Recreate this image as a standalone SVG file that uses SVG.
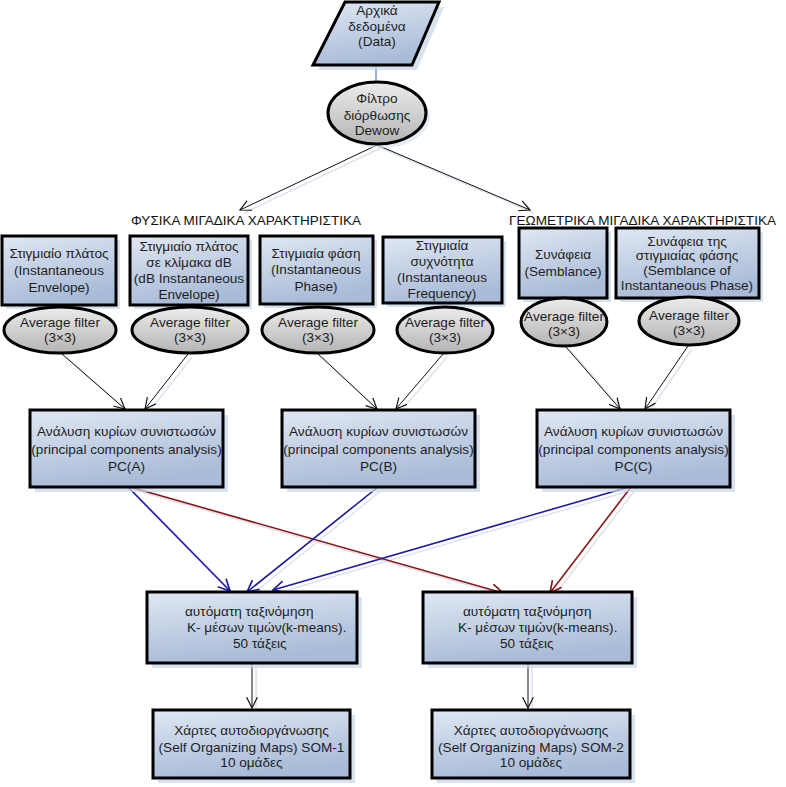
<svg xmlns="http://www.w3.org/2000/svg" width="786" height="787" viewBox="0 0 786 787">
<defs>
<linearGradient id="gBlue" x1="0" y1="0" x2="0.3" y2="1">
<stop offset="0" stop-color="#dfe7f3"/>
<stop offset="1" stop-color="#a9bbd7"/>
</linearGradient>
<linearGradient id="gGray" x1="0" y1="0" x2="0" y2="1">
<stop offset="0" stop-color="#ececec"/>
<stop offset="1" stop-color="#b4b4b4"/>
</linearGradient>
<marker id="aK" markerUnits="userSpaceOnUse" markerWidth="12" markerHeight="12" refX="9" refY="5" orient="auto" viewBox="0 0 10 10">
<path d="M0,0.5 L9,5 L0,9.5" fill="none" stroke="#111" stroke-width="1"/>
</marker>
<marker id="aB" markerUnits="userSpaceOnUse" markerWidth="13" markerHeight="13" refX="9" refY="5" orient="auto" viewBox="0 0 10 10">
<path d="M0,0.5 L9,5 L0,9.5" fill="none" stroke="#1c1ca6" stroke-width="1.3"/>
</marker>
<marker id="aR" markerUnits="userSpaceOnUse" markerWidth="13" markerHeight="13" refX="9" refY="5" orient="auto" viewBox="0 0 10 10">
<path d="M0,0.5 L9,5 L0,9.5" fill="none" stroke="#8a1515" stroke-width="1.3"/>
</marker>
</defs>
<style>
.box{fill:url(#gBlue);stroke:#000;stroke-width:3}
.ell{fill:url(#gGray);stroke:#000;stroke-width:3}
.sh{fill:#c9d5e8;opacity:0.7}
.t{font-family:"Liberation Sans",Arial,sans-serif;font-size:13.6px;fill:#1e1e1e;text-anchor:middle}
.ts{font-family:"Liberation Sans",Arial,sans-serif;font-size:13.6px;fill:#1e1e1e}
.h{font-family:"Liberation Sans",Arial,sans-serif;font-size:13px;fill:#111}
.ck{stroke:#111;stroke-width:1;fill:none;marker-end:url(#aK)}
.cb{stroke:#1c1ca6;stroke-width:1.6;fill:none;marker-end:url(#aB)}
.cr{stroke:#8a1515;stroke-width:1.6;fill:none;marker-end:url(#aR)}
.csh{stroke:#dde3ee;stroke-width:1.5;fill:none}
</style>
<rect width="786" height="787" fill="#fff"/>

<g id="connectors">
<g class="shadows">
<line class="csh" x1="381" y1="148" x2="244" y2="213"/>
<line class="csh" x1="381" y1="148" x2="534" y2="213"/>
<line class="csh" x1="66" y1="357" x2="129" y2="412"/>
<line class="csh" x1="192" y1="357" x2="149" y2="412"/>
<line class="csh" x1="322" y1="357" x2="381" y2="412"/>
<line class="csh" x1="447" y1="357" x2="400" y2="412"/>
<line class="csh" x1="570" y1="350" x2="624" y2="412"/>
<line class="csh" x1="692" y1="349" x2="649" y2="412"/>
<line class="csh" x1="132" y1="490" x2="234" y2="594"/>
<line class="csh" x1="134" y1="490" x2="507" y2="596"/>
<line class="csh" x1="382" y1="490" x2="251" y2="595"/>
<line class="csh" x1="633" y1="490" x2="277" y2="593"/>
<line class="csh" x1="635" y1="490" x2="554" y2="596"/>
<line class="csh" x1="256" y1="666" x2="256" y2="711"/>
<line class="csh" x1="532" y1="666" x2="532" y2="711"/>
</g>
<line x1="376" y1="66" x2="376" y2="82" stroke="#4f7fb8" stroke-width="1.2"/>
<line class="ck" x1="377" y1="145" x2="240" y2="210"/>
<line class="ck" x1="377" y1="145" x2="530" y2="210"/>
<line class="ck" x1="62" y1="354" x2="125" y2="409"/>
<line class="ck" x1="188" y1="354" x2="145" y2="409"/>
<line class="ck" x1="318" y1="354" x2="377" y2="409"/>
<line class="ck" x1="443" y1="354" x2="396" y2="409"/>
<line class="ck" x1="566" y1="347" x2="620" y2="409"/>
<line class="ck" x1="688" y1="346" x2="645" y2="409"/>
<line class="cb" x1="128" y1="487" x2="230" y2="591"/>
<line class="cr" x1="130" y1="487" x2="503" y2="593"/>
<line class="cb" x1="378" y1="487" x2="247" y2="592"/>
<line class="cb" x1="629" y1="487" x2="273" y2="590"/>
<line class="cr" x1="631" y1="487" x2="550" y2="593"/>
<line class="ck" x1="252" y1="663" x2="252" y2="708"/>
<line class="ck" x1="528" y1="663" x2="528" y2="708"/>
</g>

<g id="data">
<polygon class="sh" points="350,7 444,7 417,70 318,70"/>
<polygon class="box" points="345,2 439,2 412,65 313,65"/>
<text class="t" x="377" y="15">Αρχικά</text>
<text class="t" x="377" y="31">δεδομένα</text>
<text class="t" x="377" y="46">(Data)</text>
</g>

<g id="dewow">
<ellipse cx="381" cy="117" rx="49" ry="31" fill="#dbe3ef" opacity="0.7"/>
<ellipse class="ell" cx="377" cy="113" rx="49" ry="31"/>
<text class="t" x="377" y="103">Φίλτρο</text>
<text class="t" x="377" y="120">διόρθωσης</text>
<text class="t" x="377" y="135">Dewow</text>
</g>

<g id="header-physical">
<text class="h" x="131" y="225" textLength="230" lengthAdjust="spacingAndGlyphs">ΦΥΣΙΚΑ ΜΙΓΑΔΙΚΑ ΧΑΡΑΚΤΗΡΙΣΤΙΚΑ</text>
</g>
<g id="header-geometric">
<text class="h" x="509" y="225" textLength="267" lengthAdjust="spacingAndGlyphs">ΓΕΩΜΕΤΡΙΚΑ ΜΙΓΑΔΙΚΑ ΧΑΡΑΚΤΗΡΙΣΤΙΚΑ</text>
</g>

<g id="b1">
<rect class="sh" x="6" y="240" width="114" height="69"/>
<rect class="box" x="2" y="236" width="114" height="69"/>
<text class="t" x="59" y="258">Στιγμιαίο πλάτος</text>
<text class="t" x="59" y="275">(Instantaneous</text>
<text class="t" x="59" y="292">Envelope)</text>
</g>
<g id="b2">
<rect class="sh" x="134" y="240" width="118" height="69"/>
<rect class="box" x="130" y="236" width="118" height="69"/>
<text class="t" x="189" y="251">Στιγμιαίο πλάτος</text>
<text class="t" x="189" y="267">σε κλίμακα dB</text>
<text class="t" x="189" y="283">(dB Instantaneous</text>
<text class="t" x="189" y="299">Envelope)</text>
</g>
<g id="b3">
<rect class="sh" x="264" y="240" width="113" height="68"/>
<rect class="box" x="260" y="236" width="113" height="68"/>
<text class="t" x="316" y="258">Στιγμιαία φάση</text>
<text class="t" x="316" y="274">(Instantaneous</text>
<text class="t" x="316" y="291">Phase)</text>
</g>
<g id="b4">
<rect class="sh" x="387" y="241" width="119" height="66"/>
<rect class="box" x="383" y="237" width="119" height="66"/>
<text class="t" x="442" y="250">Στιγμιαία</text>
<text class="t" x="442" y="266">συχνότητα</text>
<text class="t" x="442" y="282">(Instantaneous</text>
<text class="t" x="442" y="298">Frequency)</text>
</g>
<g id="b5">
<rect class="sh" x="523" y="232" width="88" height="70"/>
<rect class="box" x="519" y="228" width="88" height="70"/>
<text class="t" x="563" y="259">Συνάφεια</text>
<text class="t" x="563" y="276">(Semblance)</text>
</g>
<g id="b6">
<rect class="sh" x="620" y="232" width="143" height="70"/>
<rect class="box" x="616" y="228" width="143" height="70"/>
<text class="t" x="687" y="246">Συνάφεια της</text>
<text class="t" x="687" y="260">στιγμιαίας φάσης</text>
<text class="t" x="687" y="275">(Semblance of</text>
<text class="t" x="687" y="290">Instantaneous Phase)</text>
</g>

<g id="f1">
<ellipse class="ell" cx="60" cy="330" rx="56" ry="23"/>
<text class="t" x="60" y="327">Average filter</text>
<text class="t" x="60" y="342">(3×3)</text>
</g>
<g id="f2">
<ellipse class="ell" cx="190" cy="330" rx="58" ry="23"/>
<text class="t" x="190" y="327">Average filter</text>
<text class="t" x="190" y="342">(3×3)</text>
</g>
<g id="f3">
<ellipse class="ell" cx="318" cy="330" rx="56" ry="23"/>
<text class="t" x="318" y="327">Average filter</text>
<text class="t" x="318" y="342">(3×3)</text>
</g>
<g id="f4">
<ellipse class="ell" cx="445" cy="330" rx="48" ry="23"/>
<text class="t" x="445" y="327">Average filter</text>
<text class="t" x="445" y="342">(3×3)</text>
</g>
<g id="f5">
<ellipse class="ell" cx="564" cy="322" rx="43" ry="24"/>
<text class="t" x="564" y="321">Average filter</text>
<text class="t" x="564" y="336">(3×3)</text>
</g>
<g id="f6">
<ellipse class="ell" cx="689" cy="321" rx="50" ry="24"/>
<text class="t" x="689" y="320">Average filter</text>
<text class="t" x="689" y="335">(3×3)</text>
</g>

<g id="pca-a">
<rect class="sh" x="35" y="415" width="193" height="77"/>
<rect class="box" x="30" y="410" width="193" height="77"/>
<text class="t" x="126.5" y="436">Ανάλυση κυρίων συνιστωσών</text>
<text class="t" x="126.5" y="454">(principal components analysis)</text>
<text class="t" x="126.5" y="471">PC(A)</text>
</g>
<g id="pca-b">
<rect class="sh" x="287" y="415" width="193" height="77"/>
<rect class="box" x="282" y="410" width="193" height="77"/>
<text class="t" x="378.5" y="436">Ανάλυση κυρίων συνιστωσών</text>
<text class="t" x="378.5" y="454">(principal components analysis)</text>
<text class="t" x="378.5" y="471">PC(B)</text>
</g>
<g id="pca-c">
<rect class="sh" x="542" y="415" width="193" height="77"/>
<rect class="box" x="537" y="410" width="193" height="77"/>
<text class="t" x="633.5" y="436">Ανάλυση κυρίων συνιστωσών</text>
<text class="t" x="633.5" y="454">(principal components analysis)</text>
<text class="t" x="633.5" y="471">PC(C)</text>
</g>

<g id="kmeans-1">
<rect class="sh" x="152" y="597" width="210" height="71"/>
<rect class="box" x="147" y="592" width="210" height="71"/>
<text class="ts" x="185" y="616">αυτόματη ταξινόμηση</text>
<text class="ts" x="187" y="632">K- μέσων τιμών(k-means).</text>
<text class="ts" x="233" y="648">50 τάξεις</text>
</g>
<g id="kmeans-2">
<rect class="sh" x="428" y="597" width="209" height="71"/>
<rect class="box" x="423" y="592" width="209" height="71"/>
<text class="ts" x="463" y="616">αυτόματη ταξινόμηση</text>
<text class="ts" x="458" y="632">K- μέσων τιμών(k-means).</text>
<text class="ts" x="500" y="648">50 τάξεις</text>
</g>

<g id="som-1">
<rect class="sh" x="158" y="715" width="197" height="68"/>
<rect class="box" x="153" y="710" width="197" height="68"/>
<text class="t" x="251.5" y="735">Χάρτες αυτοδιοργάνωσης</text>
<text class="t" x="251.5" y="752">(Self Organizing Maps) SOM-1</text>
<text class="t" x="251.5" y="767">10 ομάδες</text>
</g>
<g id="som-2">
<rect class="sh" x="437" y="715" width="198" height="68"/>
<rect class="box" x="432" y="710" width="198" height="68"/>
<text class="t" x="531" y="735">Χάρτες αυτοδιοργάνωσης</text>
<text class="t" x="531" y="752">(Self Organizing Maps) SOM-2</text>
<text class="t" x="531" y="767">10 ομάδες</text>
</g>
</svg>
